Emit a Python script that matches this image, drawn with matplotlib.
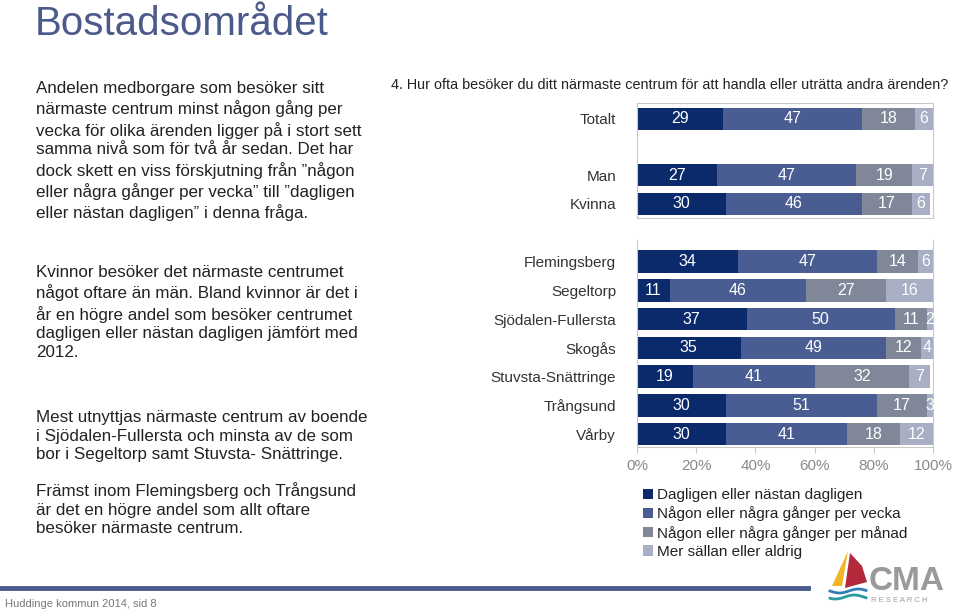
# Bostadsområdet - stacked bars, CMA slide
import numpy as np
import matplotlib.pyplot as plt
from matplotlib.lines import Line2D
from matplotlib.patches import Polygon

plt.rcParams['font.family'] = ['Liberation Sans', 'DejaVu Sans']

# data
series = ['Dagligen eller nästan dagligen',
          'Någon eller några gånger per vecka',
          'Någon eller några gånger per månad',
          'Mer sällan eller aldrig']
colors = ['#0b2a6c', '#4a5d92', '#7f8798', '#a8aec4']

top_cats = ['Totalt', 'Man', 'Kvinna']
top_pos = [0, 2, 3]
top_vals = [[29, 27, 30],
            [47, 47, 46],
            [18, 19, 17],
            [6, 7, 6]]

areas = ['Flemingsberg', 'Segeltorp', 'Sjödalen-Fullersta', 'Skogås',
         'Stuvsta-Snättringe', 'Trångsund', 'Vårby']
area_vals = [[34, 11, 37, 35, 19, 30, 30],
             [47, 46, 50, 49, 41, 51, 41],
             [14, 27, 11, 12, 32, 17, 18],
             [6, 16, 2, 4, 7, 3, 12]]

xticks = [0, 20, 40, 60, 80, 100]
xticklabels = ['0%', '20%', '40%', '60%', '80%', '100%']

W, H = 959, 612
def fx(x): return x / W
def fy(y): return 1 - y / H

fig = plt.figure(figsize=(W/100, H/100), dpi=100)
fig.patch.set_facecolor('white')

def stack(ax, pos, vals):
    left = np.zeros(len(pos))
    for i, v in enumerate(vals):
        v = np.array(v, dtype=float)
        bc = ax.barh(pos, v, left=left, height=0.78, color=colors[i],
                     label=series[i], linewidth=0)
        ax.bar_label(bc, labels=[str(int(a)) for a in v], label_type='center',
                     color='white', fontsize=11.5)
        left += v
    ax.set_xlim(0, 100)

# top panel
ax1 = fig.add_axes([fx(637), fy(218), fx(296), 115/H])
stack(ax1, top_pos, top_vals)
ax1.set_ylim(3.5, -0.55)
ax1.set_yticks(top_pos)
ax1.set_yticklabels(top_cats, fontsize=11, color='#333333')
ax1.set_xticks([])
ax1.tick_params(axis='y', length=0, pad=15)
for s in ax1.spines.values():
    s.set_color('#c8c8c8')
    s.set_linewidth(0.8)

# bottom panel
ax2 = fig.add_axes([fx(637), fy(447), fx(296), 207/H])
stack(ax2, np.arange(len(areas)), area_vals)
ax2.set_ylim(6.45, -0.75)
ax2.set_yticks(np.arange(len(areas)))
ax2.set_yticklabels(areas, fontsize=11, color='#333333')
ax2.tick_params(axis='y', length=0, pad=15)
ax2.set_xticks(xticks)
ax2.set_xticklabels(xticklabels, fontsize=11, color='#8a8a8a')
ax2.tick_params(axis='x', length=4, color='#c8c8c8', pad=5)
ax2.spines['top'].set_visible(False)
for k in ['left', 'right', 'bottom']:
    ax2.spines[k].set_color('#c8c8c8')
    ax2.spines[k].set_linewidth(0.8)

# legend
h, l = ax2.get_legend_handles_labels()
fig.legend(h, l, loc='upper left', bbox_to_anchor=(fx(643), fy(488)),
           frameon=False, fontsize=11, handlelength=0.65, handleheight=0.65,
           handletextpad=0.25, labelspacing=0.28, borderaxespad=0, borderpad=0,
           labelcolor='#222222')

# title and texts
fig.text(fx(35), fy(35), 'Bostadsområdet', fontsize=29, color='#4b5a8a',
         ha='left', va='baseline')
fig.text(fx(391), fy(85), '4. Hur ofta besöker du ditt närmaste centrum för att handla '
         'eller uträtta andra ärenden?', fontsize=10.4, color='#222222',
         ha='left', va='center')

blocks = [
    (81, 'Andelen medborgare som besöker sitt\nnärmaste centrum minst någon gång per\n'
         'vecka för olika ärenden ligger på i stort sett\nsamma nivå som för två år sedan. Det har\n'
         'dock skett en viss förskjutning från ”någon\neller några gånger per vecka” till ”dagligen\n'
         'eller nästan dagligen” i denna fråga.'),
    (265, 'Kvinnor besöker det närmaste centrumet\nnågot oftare än män. Bland kvinnor är det i\n'
          'år en högre andel som besöker centrumet\ndagligen eller nästan dagligen jämfört med\n2012.'),
    (410, 'Mest utnyttjas närmaste centrum av boende\ni Sjödalen-Fullersta och minsta av de som\n'
          'bor i Segeltorp samt Stuvsta- Snättringe.'),
    (482, 'Främst inom Flemingsberg och Trångsund\när det en högre andel som allt oftare\n'
          'besöker närmaste centrum.'),
]
for y, t in blocks:
    fig.text(fx(36), fy(y), t, fontsize=12.25, color='#222222', ha='left', va='top',
             linespacing=1.31)

# footer
fig.add_artist(Line2D([0, fx(808)], [fy(588), fy(588)], color='#4a5a8c', lw=3.5))
fig.text(fx(5), fy(604), 'Huddinge kommun 2014, sid 8', fontsize=8, color='#777777',
         ha='left', va='center')

# CMA logo
lg = fig.add_axes([fx(820), fy(607), fx(135), 60/H])
lg.set_xlim(820, 955)
lg.set_ylim(607, 547)
lg.axis('off')
lg.add_patch(Polygon([[848, 551], [832, 586], [842, 586]], closed=True,
                     color='#f2b52a', lw=0))
lg.add_patch(Polygon([[850, 553], [862, 566], [867, 582], [845, 588]], closed=True,
                     color='#b3283a', lw=0))
xs = np.linspace(830, 866, 30)
lg.plot(xs, 591 + 2*np.sin((xs-830)/6), color='#2f7fb5', lw=2)
lg.plot(xs, 597 + 2*np.sin((xs-826)/6), color='#2a9aa0', lw=2)
lg.text(869, 590, 'CMA', fontsize=24, color='#9a9a9a', ha='left', va='baseline',
        fontweight='bold')
lg.text(871, 601, 'R E S E A R C H', fontsize=5.5, color='#9a9a9a', ha='left',
        va='center')

fig.savefig('out.png', dpi=100)
